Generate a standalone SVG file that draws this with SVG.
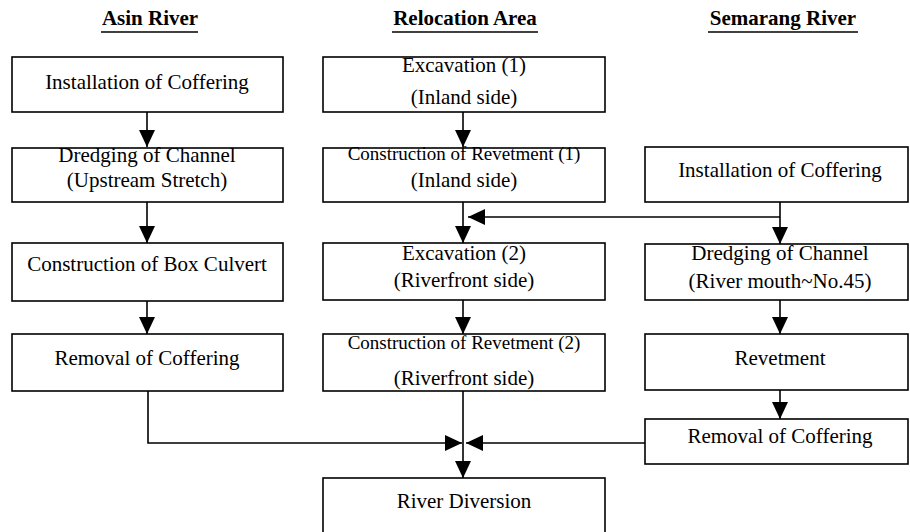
<svg xmlns="http://www.w3.org/2000/svg" width="910" height="532" viewBox="0 0 910 532">
<style>
  .box { fill: #ffffff; stroke: #000000; stroke-width: 1.6; }
  .t { font-family: "Liberation Serif", "Times New Roman", serif; font-size: 21px; fill: #000000; text-anchor: middle; }
  .ts { font-size: 19px; }
  .h { font-family: "Liberation Serif", "Times New Roman", serif; font-size: 21px; font-weight: bold; fill: #000000; text-anchor: middle; }
  .ul { stroke: #000000; stroke-width: 1.5; }
  .c { fill: none; stroke: #000000; stroke-width: 1.6; marker-end: url(#arr); }
</style>
<defs>
  <marker id="arr" viewBox="0 0 17 16" refX="17" refY="8" markerWidth="17" markerHeight="16" markerUnits="userSpaceOnUse" orient="auto">
    <path d="M0,0 L17,8 L0,16 Z" fill="#000000"/>
  </marker>
</defs>
<rect width="910" height="532" fill="#ffffff"/>

<g id="headings">
  <text class="h" x="150" y="25">Asin River</text>
  <line class="ul" x1="101" y1="32" x2="198" y2="32"/>
  <text class="h" x="465" y="25">Relocation Area</text>
  <line class="ul" x1="392" y1="32" x2="538" y2="32"/>
  <text class="h" x="783" y="25">Semarang River</text>
  <line class="ul" x1="708" y1="32" x2="858" y2="32"/>
</g>

<g id="connectors">
  <line class="c" x1="147" y1="112" x2="147" y2="147"/>
  <line class="c" x1="147" y1="202" x2="147" y2="243"/>
  <line class="c" x1="147" y1="301" x2="147" y2="334"/>
  <path class="c" d="M148,391 L148,443 L462,443"/>
  <line class="c" x1="463" y1="112" x2="463" y2="147"/>
  <line class="c" x1="463" y1="202" x2="463" y2="243"/>
  <line class="c" x1="463" y1="300" x2="463" y2="334"/>
  <line class="c" x1="463" y1="391" x2="463" y2="478"/>
  <line class="c" x1="780" y1="202" x2="780" y2="244"/>
  <path class="c" d="M780,217 L468,217"/>
  <line class="c" x1="780" y1="300" x2="780" y2="334"/>
  <line class="c" x1="780" y1="390" x2="780" y2="419"/>
  <path class="c" d="M645,443 L466,443"/>
</g>

<g id="a1"><rect class="box" x="12" y="57" width="271" height="55"/><text class="t" x="147" y="89">Installation of Coffering</text></g>
<g id="a2"><rect class="box" x="12" y="148" width="271" height="54"/><text class="t" x="147" y="162">Dredging of Channel</text><text class="t" x="147" y="187">(Upstream Stretch)</text></g>
<g id="a3"><rect class="box" x="12" y="243" width="271" height="58"/><text class="t" x="147" y="271">Construction of Box Culvert</text></g>
<g id="a4"><rect class="box" x="12" y="334" width="271" height="57"/><text class="t" x="147" y="365">Removal of Coffering</text></g>

<g id="b1"><rect class="box" x="323" y="57" width="282" height="55"/><text class="t" x="464" y="72">Excavation (1)</text><text class="t" x="464" y="104">(Inland side)</text></g>
<g id="b2"><rect class="box" x="323" y="148" width="282" height="54"/><text class="t ts" x="464" y="160">Construction of Revetment (1)</text><text class="t" x="464" y="187">(Inland side)</text></g>
<g id="b3"><rect class="box" x="323" y="243" width="282" height="57"/><text class="t" x="464" y="260">Excavation (2)</text><text class="t" x="464" y="287">(Riverfront side)</text></g>
<g id="b4"><rect class="box" x="323" y="334" width="282" height="57"/><text class="t ts" x="464" y="349">Construction of Revetment (2)</text><text class="t" x="464" y="385">(Riverfront side)</text></g>
<g id="b5"><rect class="box" x="323" y="478" width="282" height="70"/><text class="t" x="464" y="508">River Diversion</text></g>

<g id="c1"><rect class="box" x="645" y="147" width="263" height="55"/><text class="t" x="780" y="177">Installation of Coffering</text></g>
<g id="c2"><rect class="box" x="645" y="244" width="263" height="56"/><text class="t" x="780" y="260">Dredging of Channel</text><text class="t" x="780" y="288">(River mouth~No.45)</text></g>
<g id="c3"><rect class="box" x="645" y="334" width="263" height="56"/><text class="t" x="780" y="365">Revetment</text></g>
<g id="c4"><rect class="box" x="645" y="419" width="263" height="45"/><text class="t" x="780" y="443">Removal of Coffering</text></g>
</svg>
